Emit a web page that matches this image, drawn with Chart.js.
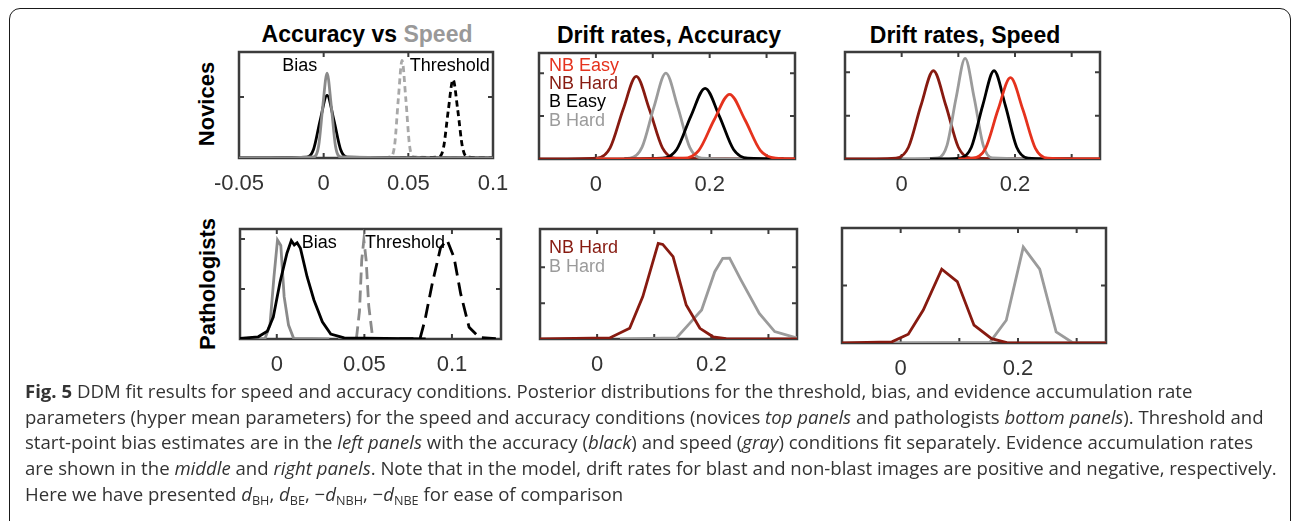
<!DOCTYPE html>
<html>
<head>
<meta charset="utf-8">
<script src="https://cdn.jsdelivr.net/npm/chart.js@4"></script>
<style>
html, body { margin: 0; padding: 0; background: #fff; overflow: hidden; }
body { width: 1292px; height: 521px; position: relative; font-family: "Liberation Sans", Arial, sans-serif; }
.frame { position: absolute; left: 9px; top: 8px; width: 1282px; height: 530px; border: 1.5px solid #1a1a1a; border-radius: 11px; box-sizing: border-box; }
canvas { position: absolute; }
.ttl { position: absolute; font-weight: bold; font-size: 23px; line-height: 1; transform: translate(-50%, -50%); white-space: nowrap; color: #000; }
.row { position: absolute; font-weight: bold; font-size: 22px; line-height: 1; white-space: nowrap; transform: translate(-50%, -50%) rotate(-90deg); }
.cap { position: absolute; left: 25px; top: 378px; font-family: "Open Sans", sans-serif; font-size: 18px; line-height: 25.7px; color: #333; }
.cap div { white-space: nowrap; }
.cap sub { font-size: 0.68em; vertical-align: -0.3em; line-height: 0; }
</style>
</head>
<body>
<div class="frame"></div>

<div class="ttl" style="left:367px; top:34px">Accuracy vs <span style="color:#999">Speed</span></div>
<div class="ttl" style="left:669px; top:35px">Drift rates, Accuracy</div>
<div class="ttl" style="left:965px; top:35px">Drift rates, Speed</div>
<div class="row" style="left:207px; top:104px">Novices</div>
<div class="row" style="left:208px; top:284px">Pathologists</div>

<canvas id="c1"></canvas>
<canvas id="c2"></canvas>
<canvas id="c3"></canvas>
<canvas id="c4"></canvas>
<canvas id="c5"></canvas>
<canvas id="c6"></canvas>

<div class="cap" id="cap">
  <div id="l1"><b>Fig. 5</b> DDM fit results for speed and accuracy conditions. Posterior distributions for the threshold, bias, and evidence accumulation rate</div>
  <div>parameters (hyper mean parameters) for the speed and accuracy conditions (novices <i>top panels</i> and pathologists <i>bottom panels</i>). Threshold and</div>
  <div>start-point bias estimates are in the <i>left panels</i> with the accuracy (<i>black</i>) and speed (<i>gray</i>) conditions fit separately. Evidence accumulation rates</div>
  <div id="l4">are shown in the <i>middle</i> and <i>right panels</i>. Note that in the model, drift rates for blast and non-blast images are positive and negative, respectively.</div>
  <div>Here we have presented <i>d</i><sub>BH</sub>, <i>d</i><sub>BE</sub>, −<i>d</i><sub>NBH</sub>, −<i>d</i><sub>NBE</sub> for ease of comparison</div>
</div>

<script>
const FONT = '"Liberation Sans", Arial, sans-serif';

// x ticks
const biasTicks = [-0.05, 0, 0.05, 0.1];
const biasTickLabels = ['-0.05', '0', '0.05', '0.1'];
const biasTicksPath = [0, 0.05, 0.1];
const biasTickLabelsPath = ['0', '0.05', '0.1'];
const driftTicks = [-0.1, 0, 0.1, 0.2, 0.3];
const driftTickLabels = ['', '0', '', '0.2', ''];

// novices: bias / threshold posteriors (x, relative density)
const novBiasAcc = [[-0.05, 0], [-0.01, 0.007], [-0.006, 0.08], [-0.002, 0.36], [0.002, 0.59], [0.006, 0.36], [0.01, 0.08], [0.014, 0.007], [0.1, 0]];
const novBiasSpd = [[-0.05, 0], [-0.006, 0.01], [-0.003, 0.11], [-0.0005, 0.49], [0.002, 0.8], [0.0045, 0.49], [0.007, 0.11], [0.01, 0.01], [0.1, 0]];
const novThrSpd = [[0.03, 0], [0.0395, 0.01], [0.0419, 0.12], [0.0441, 0.56], [0.0463, 0.92], [0.0485, 0.56], [0.0507, 0.12], [0.0531, 0.01], [0.1, 0]];
const novThrAcc = [[0.045, 0], [0.068, 0.01], [0.0708, 0.1], [0.0736, 0.45], [0.0764, 0.74], [0.0792, 0.45], [0.082, 0.1], [0.0848, 0.01], [0.1, 0]];

// novices: drift rates, accuracy
const novAccNBEasy = [[0.0, 0], [0.154, 0.007], [0.181, 0.082], [0.208, 0.37], [0.235, 0.61], [0.262, 0.37], [0.289, 0.082], [0.316, 0.007], [0.35, 0]];
const novAccNBHard = [[-0.1, 0], [0.002, 0.008], [0.025, 0.105], [0.048, 0.47], [0.071, 0.78], [0.094, 0.47], [0.117, 0.105], [0.14, 0.008], [0.35, 0]];
const novAccBEasy = [[0.05, 0], [0.117, 0.007], [0.142, 0.09], [0.167, 0.405], [0.192, 0.667], [0.217, 0.405], [0.242, 0.09], [0.267, 0.007], [0.33, 0]];
const novAccBHard = [[0.0, 0], [0.06, 0.009], [0.081, 0.11], [0.102, 0.49], [0.123, 0.81], [0.144, 0.49], [0.165, 0.11], [0.186, 0.009], [0.3, 0]];

// novices: drift rates, speed
const novSpdNBEasy = [[0.1, 0], [0.126, 0.008], [0.148, 0.1], [0.17, 0.46], [0.192, 0.76], [0.214, 0.46], [0.236, 0.1], [0.258, 0.008], [0.35, 0]];
const novSpdNBHard = [[-0.1, 0], [-0.01, 0.009], [0.012, 0.11], [0.034, 0.5], [0.056, 0.825], [0.078, 0.5], [0.1, 0.11], [0.122, 0.009], [0.35, 0]];
const novSpdBEasy = [[0.05, 0], [0.103, 0.009], [0.123, 0.11], [0.143, 0.5], [0.163, 0.825], [0.183, 0.5], [0.203, 0.11], [0.223, 0.009], [0.3, 0]];
const novSpdBHard = [[0.0, 0], [0.064, 0.01], [0.08, 0.127], [0.096, 0.57], [0.112, 0.94], [0.128, 0.57], [0.144, 0.127], [0.16, 0.01], [0.3, 0]];

// pathologists: bias / threshold
const patBiasAcc = [[-0.021, 0.005], [-0.0106, 0.02], [-0.0054, 0.07], [-0.002, 0.2], [0.0019, 0.52], [0.0058, 0.78], [0.0083, 0.894], [0.01, 0.855], [0.0116, 0.875], [0.0135, 0.824], [0.0173, 0.566], [0.0212, 0.355], [0.026, 0.157], [0.0308, 0.045], [0.0385, 0.01], [0.085, 0]];
const patBiasSpd = [[-0.021, 0], [-0.0067, 0.005], [-0.0039, 0.127], [-0.0016, 0.566], [0.0004, 0.9], [0.0023, 0.85], [0.0042, 0.385], [0.0067, 0.127], [0.0096, 0.006], [0.03, 0]];
const patThrSpd = [[0.035, 0], [0.0455, 0.01], [0.0472, 0.25], [0.0485, 0.72], [0.0497, 0.9], [0.051, 0.72], [0.0525, 0.3], [0.0545, 0.04], [0.056, 0], [0.065, 0]];
const patThrAcc = [[0.07, 0], [0.0818, 0.005], [0.0847, 0.18], [0.0887, 0.5], [0.0935, 0.83], [0.0972, 0.9], [0.1012, 0.74], [0.105, 0.41], [0.1098, 0.106], [0.1156, 0.015], [0.128, 0]];

// pathologists: drift rates
const patAccNBHard = [[-0.1, 0], [0.022, 0.01], [0.057, 0.097], [0.08, 0.385], [0.107, 0.87], [0.115, 0.86], [0.133, 0.748], [0.156, 0.309], [0.18, 0.097], [0.203, 0.02], [0.226, 0.003], [0.35, 0]];
const patAccBHard = [[0.04, 0], [0.139, 0.01], [0.162, 0.142], [0.183, 0.264], [0.206, 0.612], [0.22, 0.733], [0.232, 0.735], [0.252, 0.536], [0.284, 0.233], [0.311, 0.067], [0.346, 0.015], [0.35, 0.012]];
const patSpdNBHard = [[-0.1, 0], [-0.015, 0.01], [0.013, 0.076], [0.0385, 0.286], [0.07, 0.642], [0.0965, 0.534], [0.125, 0.155], [0.155, 0.038], [0.181, 0.003], [0.35, 0]];
const patSpdBHard = [[-0.013, 0], [0.152, 0.005], [0.18, 0.198], [0.209, 0.834], [0.237, 0.642], [0.265, 0.096], [0.294, 0], [0.35, 0]];

const RED = '#e5321d', DARKRED = '#871a10', GRAY = '#9b9b9b', BLACK = '#000';

function line(pts, color, opts) {
  return Object.assign({
    data: pts.map(p => ({ x: p[0], y: p[1] })),
    borderColor: color,
    borderWidth: 2.8,
    pointRadius: 0,
    fill: false,
    tension: 0
  }, opts || {});
}
const smooth = { cubicInterpolationMode: 'monotone' };

function boxPlugin(yTicks, notes) {
  return {
    id: 'matlabBox',
    beforeDatasetsDraw(chart) {
      const { ctx, chartArea: a, scales: { x, y } } = chart;
      ctx.save();
      ctx.strokeStyle = '#3c3c3c';
      ctx.lineWidth = 2.5;
      ctx.strokeRect(a.left, a.top, a.right - a.left, a.bottom - a.top);
      ctx.lineWidth = 2;
      ctx.beginPath();
      x.ticks.forEach(t => {
        const px = x.getPixelForValue(t.value);
        if (px <= a.left + 2 || px >= a.right - 2) return;
        ctx.moveTo(px, a.bottom); ctx.lineTo(px, a.bottom - 5);
        ctx.moveTo(px, a.top); ctx.lineTo(px, a.top + 5);
      });
      yTicks.forEach(v => {
        const py = y.getPixelForValue(v);
        ctx.moveTo(a.left, py); ctx.lineTo(a.left + 5, py);
        ctx.moveTo(a.right, py); ctx.lineTo(a.right - 5, py);
      });
      ctx.stroke();
      ctx.restore();
    },
    afterDatasetsDraw(chart) {
      const { ctx, scales: { x, y } } = chart;
      ctx.save();
      ctx.font = '18px ' + FONT;
      ctx.textAlign = 'left';
      ctx.textBaseline = 'middle';
      notes.forEach(n => {
        ctx.fillStyle = n.color;
        ctx.fillText(n.text, x.getPixelForValue(n.x), y.getPixelForValue(n.y) + 1);
      });
      ctx.restore();
    }
  };
}

const PAD = 40, PADTOP = 20, AXIS_H = 52;

function panel(id, box, xMin, xMax, ticks, labels, yTicks, datasets, notes) {
  const cv = document.getElementById(id);
  const w = box.w + 2 * PAD, h = box.h + PADTOP + AXIS_H;
  cv.width = w; cv.height = h;
  cv.style.left = (box.l - PAD) + 'px';
  cv.style.top = (box.t - PADTOP) + 'px';
  cv.style.width = w + 'px'; cv.style.height = h + 'px';
  new Chart(cv, {
    type: 'line',
    data: { datasets },
    options: {
      responsive: false,
      animation: false,
      devicePixelRatio: 1,
      layout: { padding: { left: PAD, right: PAD, top: PADTOP, bottom: 0 } },
      plugins: { legend: { display: false }, tooltip: { enabled: false } },
      scales: {
        x: {
          type: 'linear', min: xMin, max: xMax,
          afterBuildTicks: s => { s.ticks = ticks.map(v => ({ value: v })); },
          grid: { display: false, drawTicks: false },
          border: { display: false },
          ticks: {
            autoSkip: false, maxRotation: 0, padding: 13, color: '#333',
            font: { family: FONT, size: 22, lineHeight: '26px' },
            callback: (v, i) => labels[i]
          }
        },
        y: { display: false, min: 0, max: 1 }
      }
    },
    plugins: [boxPlugin(yTicks, notes)]
  });
}

panel('c1', { l: 239, t: 52, w: 254, h: 106 }, -0.05, 0.1, biasTicks, biasTickLabels, [0.575], [
  line(novBiasSpd, '#8a8a8a', Object.assign({ order: 1 }, smooth)),
  line(novBiasAcc, BLACK, Object.assign({ order: 2 }, smooth)),
  line(novThrSpd, '#a8a8a8', Object.assign({ order: 3, borderDash: [6, 4] }, smooth)),
  line(novThrAcc, BLACK, Object.assign({ order: 2, borderDash: [6, 4] }, smooth))
], [
  { text: 'Bias', x: -0.0244, y: 0.877, color: '#000' },
  { text: 'Threshold', x: 0.0508, y: 0.877, color: '#000' }
]);

panel('c2', { l: 539, t: 53, w: 256, h: 106 }, -0.1, 0.35, driftTicks, driftTickLabels, [0.405, 0.81], [
  line(novAccNBEasy, RED, Object.assign({ order: 1 }, smooth)),
  line(novAccBEasy, BLACK, Object.assign({ order: 2 }, smooth)),
  line(novAccBHard, GRAY, Object.assign({ order: 3 }, smooth)),
  line(novAccNBHard, DARKRED, Object.assign({ order: 4 }, smooth))
], [
  { text: 'NB Easy', x: -0.0824, y: 0.887, color: RED },
  { text: 'NB Hard', x: -0.0824, y: 0.717, color: DARKRED },
  { text: 'B Easy', x: -0.0824, y: 0.547, color: BLACK },
  { text: 'B Hard', x: -0.0824, y: 0.368, color: GRAY }
]);

panel('c3', { l: 845, t: 52, w: 255, h: 107 }, -0.1, 0.35, driftTicks, driftTickLabels, [0.405, 0.81], [
  line(novSpdNBEasy, RED, Object.assign({ order: 1 }, smooth)),
  line(novSpdBEasy, BLACK, Object.assign({ order: 2 }, smooth)),
  line(novSpdBHard, GRAY, Object.assign({ order: 3 }, smooth)),
  line(novSpdNBHard, DARKRED, Object.assign({ order: 4 }, smooth))
], []);

panel('c4', { l: 240, t: 229, w: 261, h: 110 }, -0.021, 0.128, biasTicksPath, biasTickLabelsPath, [0.455, 0.91], [
  line(patBiasSpd, '#8a8a8a', { order: 2 }),
  line(patBiasAcc, BLACK, { order: 1 }),
  line(patThrSpd, '#8a8a8a', { order: 3, borderDash: [12, 6] }),
  line(patThrAcc, BLACK, { order: 1, borderDash: [14, 7] })
], [
  { text: 'Bias', x: 0.0142, y: 0.885, color: '#000' },
  { text: 'Threshold', x: 0.0504, y: 0.885, color: '#000' }
]);

panel('c5', { l: 540, t: 229, w: 257, h: 110 }, -0.1, 0.35, driftTicks, driftTickLabels, [0.326, 0.652], [
  line(patAccNBHard, DARKRED, { order: 1 }),
  line(patAccBHard, GRAY, { order: 2 })
], [
  { text: 'NB Hard', x: -0.0842, y: 0.836, color: DARKRED },
  { text: 'B Hard', x: -0.0842, y: 0.664, color: GRAY }
]);

panel('c6', { l: 842, t: 228, w: 264, h: 115 }, -0.1, 0.35, driftTicks, driftTickLabels, [0.5], [
  line(patSpdNBHard, DARKRED, { order: 1 }),
  line(patSpdBHard, GRAY, { order: 2 })
], []);

// fit caption width to the reference line length
const l4 = document.getElementById('l4');
const cap = document.getElementById('cap');
const wNow = l4.getBoundingClientRect().width;
cap.style.fontSize = (18 * 1252 / wNow).toFixed(2) + 'px';
</script>
</body>
</html>
